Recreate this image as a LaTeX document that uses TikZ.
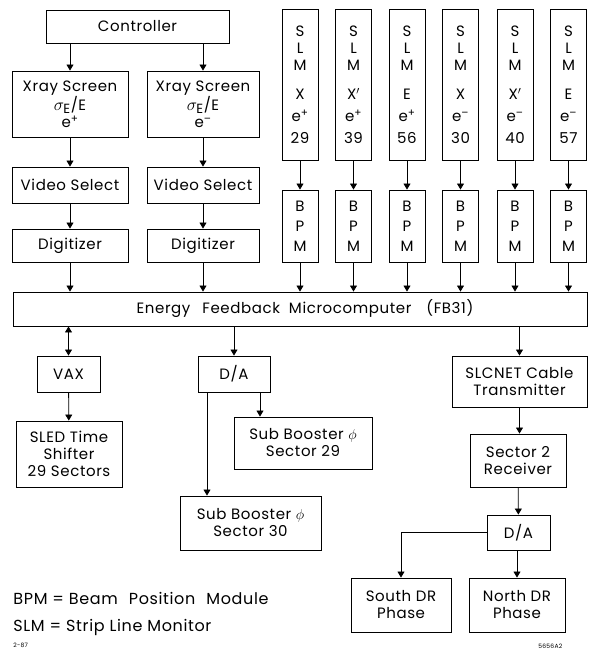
\documentclass[tikz,border=0pt]{standalone}
\usepackage{fontspec}
\setmainfont{Poppins}[LetterSpace=4.0]
\usetikzlibrary{arrows.meta}

\tikzset{
  blk/.style 2 args={draw, line width=0.9pt, align=center, inner sep=1pt,
    minimum width=#1, minimum height=#2},
  note/.style={anchor=west, inner sep=0pt},
  >={Triangle[length=6pt,width=7pt]},
}
\newcommand{\sigE}{{\fontsize{19}{17}\selectfont$\sigma_{\mathrm{E}}$}}

\begin{document}
\begin{tikzpicture}[x=1pt, y=-1pt, line width=0.8pt,
  font=\fontsize{15}{17}\selectfont]
\useasboundingbox (0,0) rectangle (595,653);

% Controller and the two Xray screen chains
\node[blk={183}{33}] (ctrl) at (137.5,26.5) {Controller};
\node[blk={116}{66}] (xp) at (70,104) {Xray Screen\\\sigE/E\\e\textsuperscript{+}};
\node[blk={112}{66}] (xm) at (203,104) {Xray Screen\\\sigE/E\\e\textsuperscript{–}};
\node[blk={116}{36}] (vsp) at (70,185) {Video Select};
\node[blk={112}{36}] (vsm) at (203,185) {Video Select};
\node[blk={116}{33}] (dgp) at (70,245.5) {Digitizer};
\node[blk={112}{33}] (dgm) at (203,245.5) {Digitizer};

% Strip line monitors and BPMs
\node[blk={36}{151}] (slm1) at (300,84.5) {S\\L\\M\\[12pt]X\\[5pt]e\textsuperscript{+}\\[5pt]29};
\node[blk={36}{151}] (slm2) at (353.5,84.5) {S\\L\\M\\[12pt]X$'$\\[5pt]e\textsuperscript{+}\\[5pt]39};
\node[blk={36}{151}] (slm3) at (407,84.5) {S\\L\\M\\[12pt]E\\[5pt]e\textsuperscript{+}\\[5pt]56};
\node[blk={36}{151}] (slm4) at (460.5,84.5) {S\\L\\M\\[12pt]X\\[5pt]e\textsuperscript{–}\\[5pt]30};
\node[blk={36}{151}] (slm5) at (515,84.5) {S\\L\\M\\[12pt]X$'$\\[5pt]e\textsuperscript{–}\\[5pt]40};
\node[blk={36}{151}] (slm6) at (568.5,84.5) {S\\L\\M\\[12pt]E\\[5pt]e\textsuperscript{–}\\[5pt]57};
\node[blk={36}{72}] (bpm1) at (300,226) {B\\[3pt]P\\[3pt]M};
\node[blk={36}{72}] (bpm2) at (353.5,226) {B\\[3pt]P\\[3pt]M};
\node[blk={36}{72}] (bpm3) at (407,226) {B\\[3pt]P\\[3pt]M};
\node[blk={36}{72}] (bpm4) at (460.5,226) {B\\[3pt]P\\[3pt]M};
\node[blk={36}{72}] (bpm5) at (515,226) {B\\[3pt]P\\[3pt]M};
\node[blk={36}{72}] (bpm6) at (568.5,226) {B\\[3pt]P\\[3pt]M};

% Feedback computer
\node[blk={574}{34}] (efb) at (300,309) {\hspace{10pt}Energy\hspace{12pt}Feedback\hspace{9pt}Microcomputer\hspace{15pt}(FB31)};

% Lower blocks
\node[blk={63}{36}] (vax) at (68.5,374) {VAX};
\node[blk={106}{66}] (sled) at (69,454) {SLED Time\\Shifter\\29 Sectors};
\node[blk={72}{36}] (da1) at (234,374) {D/A};
\node[blk={138}{52}] (sb29) at (303,443) {Sub Booster $\phi$\\Sector 29};
\node[blk={141}{54}] (sb30) at (250.5,523) {Sub Booster $\phi$\\Sector 30};
\node[blk={135}{51}] (slc) at (519.5,381.5) {SLCNET Cable\\Transmitter};
\node[blk={96}{53}] (rcv) at (518,460.5) {Sector 2\\Receiver};
\node[blk={63}{35}] (da2) at (518.5,532.5) {D/A};
\node[blk={100}{54}] (south) at (401,605) {South DR\\Phase};
\node[blk={96}{54}] (north) at (517,605) {North DR\\Phase};

% Legend
\node[note, font=\fontsize{16}{18}\selectfont] (lbpm) at (13,598) {BPM = Beam\hspace{11pt}Position\hspace{11pt}Module};
\node[note, font=\fontsize{16}{18}\selectfont] (lslm) at (13,627) {SLM = Strip Line Monitor};
\node[note, font=\fontsize{6}{7}\selectfont] (date) at (13,645) {2-87};
\node[note, font=\fontsize{6}{7}\selectfont] (fig) at (538,646) {5656A2};

% Connectors
\draw[->] (xp.north |- ctrl.south) -- (xp.north);
\draw[->] (xm.north |- ctrl.south) -- (xm.north);
\draw[->] (xp) -- (vsp);
\draw[->] (xm) -- (vsm);
\draw[->] (vsp) -- (dgp);
\draw[->] (vsm) -- (dgm);
\draw[->] (dgp) -- (dgp.south |- efb.north);
\draw[->] (dgm) -- (dgm.south |- efb.north);

\draw[->] (slm1) -- (bpm1);
\draw[->] (slm2) -- (bpm2);
\draw[->] (slm3) -- (bpm3);
\draw[->] (slm4) -- (bpm4);
\draw[->] (slm5) -- (bpm5);
\draw[->] (slm6) -- (bpm6);
\draw[->] (bpm1) -- (bpm1.south |- efb.north);
\draw[->] (bpm2) -- (bpm2.south |- efb.north);
\draw[->] (bpm3) -- (bpm3.south |- efb.north);
\draw[->] (bpm4) -- (bpm4.south |- efb.north);
\draw[->] (bpm5) -- (bpm5.south |- efb.north);
\draw[->] (bpm6) -- (bpm6.south |- efb.north);

\draw[<->] (vax.north |- efb.south) -- (vax.north);
\draw[->] (vax) -- (sled);
\draw[->] (da1.north |- efb.south) -- (da1.north);
\draw[->] ([xshift=26pt]da1.south) -- ([xshift=26pt]da1.south |- sb29.north);
\draw[->] ([xshift=-27pt]da1.south) -- ([xshift=-27pt]da1.south |- sb30.north);
\draw[->] (slc.north |- efb.south) -- (slc.north);
\draw[->] (slc) -- (rcv.north -| slc.south);
\draw[->] (rcv) -- (da2);
\draw[->] (da2.west) -| (south.north);
\draw[->] (da2.south -| north.north) -- (north.north);
\end{tikzpicture}
\end{document}
